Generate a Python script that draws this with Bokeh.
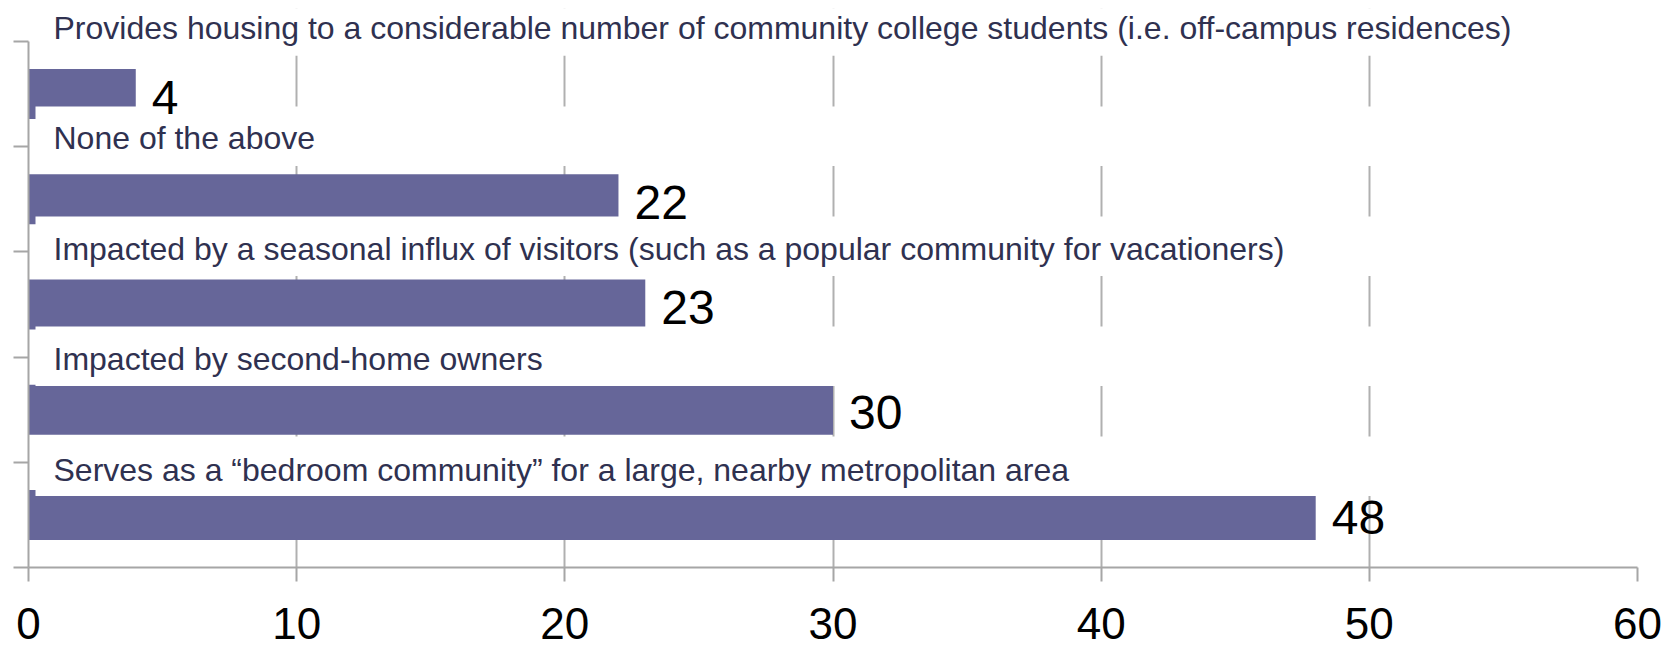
from bokeh.plotting import figure
from bokeh.models import Range1d, FixedTicker, ColumnDataSource
from bokeh.core.properties import value
from bokeh.embed import file_html
from bokeh.resources import INLINE

# ---------------- data ----------------
categories = [
    "Provides housing to a considerable number of community college students (i.e. off-campus residences)",
    "None of the above",
    "Impacted by a seasonal influx of visitors (such as a popular community for vacationers)",
    "Impacted by second-home owners",
    "Serves as a \u201cbedroom community\u201d for a large, nearby metropolitan area",
]
counts = [4, 22, 23, 30, 48]
x_ticks = [0, 10, 20, 30, 40, 50, 60]

# ---------------- layout ----------------
W, H = 1669, 647
B_LEFT, B_RIGHT, B_TOP, B_BOTTOM = 28, 32, 8, 80
FRAME_H = H - B_TOP - B_BOTTOM          # 559 px
FRAME_W = W - B_LEFT - B_RIGHT          # 1609 px
ROW_PX = 105.2                           # px per category band
N = len(categories)
Y_END = FRAME_H / ROW_PX

BAR_COLOR = "#666699"
GRID_COLOR = "#b0b0b0"
AXIS_COLOR = "#a6a6a6"
LABEL_COLOR = "#2f3150"
FONT = "Liberation Sans"

STRIPE_TOP_PX, STRIPE_PITCH_PX, STRIPE_H_PX = 17.6, 110.05, 59.5
LABEL_TOP_PX, LABEL_PITCH_PX = 18.4, 110.4


def px_to_y(px):
    return (FRAME_H - px) / ROW_PX


rows = list(range(N))
bar_y = [N - i - 0.5 for i in rows]
stripe_y = [px_to_y(STRIPE_TOP_PX + STRIPE_PITCH_PX * i) for i in rows]
label_y = [px_to_y(LABEL_TOP_PX + LABEL_PITCH_PX * i) for i in rows]

src = ColumnDataSource(dict(
    cat=categories, count=counts, bar_y=bar_y,
    stripe_y=stripe_y, label_y=label_y,
    count_txt=[str(c) for c in counts],
))

p = figure(width=W, height=H, output_backend="svg", toolbar_location=None,
           x_range=Range1d(x_ticks[0], x_ticks[-1]), y_range=Range1d(0, Y_END),
           min_border_left=B_LEFT, min_border_right=B_RIGHT,
           min_border_top=B_TOP, min_border_bottom=B_BOTTOM)
p.outline_line_color = None
p.background_fill_color = "white"
p.border_fill_color = "white"

# grid
p.ygrid.visible = False
p.xgrid.ticker = FixedTicker(ticks=x_ticks)
p.xgrid.grid_line_color = GRID_COLOR
p.xgrid.grid_line_width = 2

# bars
p.hbar(y="bar_y", left=0, right="count", height=50 / ROW_PX, source=src,
       fill_color=BAR_COLOR, line_color=None)

# white label stripes (cover grid and bar edges)
stripe_left = 7 / (FRAME_W / (x_ticks[-1] - x_ticks[0]))
p.rect(x=(stripe_left + 62) / 2, y="stripe_y", width=62 - stripe_left,
       height=STRIPE_H_PX / ROW_PX, source=src, fill_color="white", line_color=None)

# category labels
p.text(x=0, y="label_y", text="cat", source=src, x_offset=25, y_offset=1,
       text_font=value(FONT), text_font_size="32px", text_color=LABEL_COLOR,
       text_baseline="middle", text_align="left")

# value labels
p.text(x="count", y="bar_y", text="count_txt", source=src, x_offset=16, y_offset=3,
       text_font=value(FONT), text_font_size="48px", text_color="black",
       text_baseline="middle", text_align="left")

# axes
xa = p.xaxis[0]
xa.ticker = FixedTicker(ticks=x_ticks)
xa.bounds = (x_ticks[0], x_ticks[-1])
xa.axis_line_color = AXIS_COLOR
xa.axis_line_width = 2
xa.major_tick_line_color = AXIS_COLOR
xa.major_tick_line_width = 2
xa.major_tick_out = 14
xa.major_tick_in = 0
xa.minor_tick_line_color = None
xa.major_label_text_font = FONT
xa.major_label_text_font_size = "44px"
xa.major_label_text_color = "black"
xa.major_label_standoff = 26

ya = p.yaxis[0]
ya.ticker = FixedTicker(ticks=list(range(N + 1)))
ya.bounds = (0, N)
ya.axis_line_color = AXIS_COLOR
ya.axis_line_width = 2
ya.major_tick_line_color = AXIS_COLOR
ya.major_tick_line_width = 2
ya.major_tick_out = 15
ya.major_tick_in = 0
ya.minor_tick_line_color = None
ya.major_label_overrides = {i: "" for i in range(N + 1)}
ya.major_label_standoff = 0

open("out.html", "w").write(file_html(p, INLINE))
